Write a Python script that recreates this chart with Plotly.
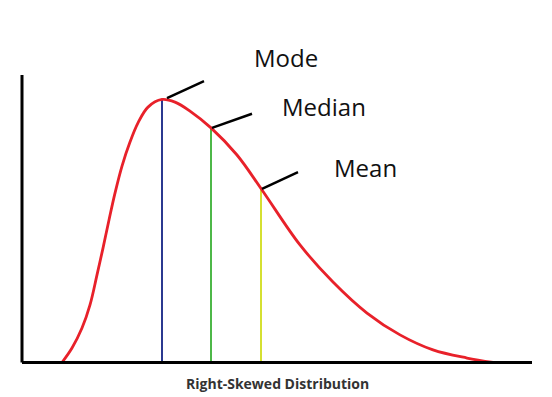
import plotly.graph_objects as go

# Density curve of a right-skewed distribution (x in arbitrary units, density normalised to peak = 1)
curve_x = [0.80, 1.00, 1.20, 1.36, 1.50, 1.62, 1.74, 1.86, 2.00, 2.16, 2.32, 2.52, 2.80,
           3.06, 3.36, 3.78, 4.30, 4.80, 5.56, 6.22, 6.90, 7.56, 8.22, 8.90, 9.42]
curve_y = [0.000, 0.055, 0.131, 0.219, 0.333, 0.435, 0.542, 0.644, 0.747, 0.838, 0.911, 0.971, 1.000,
           0.990, 0.956, 0.892, 0.789, 0.656, 0.447, 0.306, 0.188, 0.105, 0.048, 0.017, 0.000]

# Summary statistics
stat_names = ["Mode", "Median", "Mean"]
stat_x = [2.80, 3.78, 4.78]
stat_y = [1.000, 0.892, 0.660]
stat_colors = ["#2b3990", "#4db848", "#d5e031"]

title_text = "Right-Skewed Distribution"

fig = go.Figure()

# vertical stat lines
for name, sx, sy, col in zip(stat_names, stat_x, stat_y, stat_colors):
    fig.add_trace(go.Scatter(x=[sx, sx], y=[0, sy], mode="lines",
                             line=dict(color=col, width=2), showlegend=False, hoverinfo="skip"))

fig.add_trace(go.Scatter(x=curve_x, y=curve_y, mode="lines",
                         line=dict(color="#e8212a", width=2.8, shape="spline", smoothing=1.0),
                         showlegend=False, hoverinfo="skip"))

# axis lines
fig.add_shape(type="line", x0=0, x1=10.2, y0=0, y1=0, line=dict(color="black", width=3))
fig.add_shape(type="line", x0=0, x1=0, y0=0, y1=1.093, line=dict(color="black", width=3))

# leader lines and labels
leader_dx = [0.74, 0.80, 0.72]
leader_dy = [0.065, 0.054, 0.064]
leader_x0 = [2.90, 3.80, 4.80]
label_x = [5.28, 6.03, 6.86]
label_y = [1.160, 0.972, 0.743]
for i, name in enumerate(stat_names):
    x0 = leader_x0[i]
    y0 = stat_y[i] + (0.005 if i == 0 else 0.0)
    fig.add_shape(type="line", x0=x0, y0=y0, x1=x0 + leader_dx[i], y1=y0 + leader_dy[i],
                  line=dict(color="black", width=2.5))
    fig.add_annotation(x=label_x[i], y=label_y[i], text=name, showarrow=False,
                       xanchor="center", yanchor="middle",
                       font=dict(family="Open Sans", size=24, color="#111111"))

fig.add_annotation(x=5.10, y=-0.078, text="<b>" + title_text + "</b>", showarrow=False,
                   xanchor="center", yanchor="middle",
                   font=dict(family="Open Sans", size=14, color="#333333"))

fig.update_layout(
    width=552, height=397, autosize=False,
    margin=dict(l=0, r=0, t=0, b=0),
    paper_bgcolor="white", plot_bgcolor="white",
    xaxis=dict(range=[-0.44, 10.6], visible=False, fixedrange=True),
    yaxis=dict(range=[-0.1312, 1.3783], visible=False, fixedrange=True),
)

fig.write_html("out.html", config={"displayModeBar": False},
               post_script="document.body.style.margin='0';document.body.style.overflow='hidden';")
